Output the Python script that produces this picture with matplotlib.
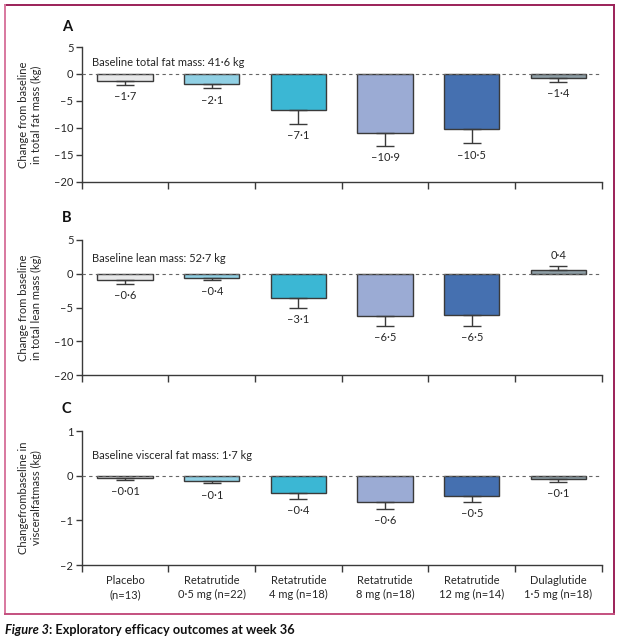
import numpy as np
import matplotlib
matplotlib.use("Agg")
import matplotlib.pyplot as plt
from matplotlib.lines import Line2D

plt.rcParams['font.family'] = ['Lato', 'DejaVu Sans']
plt.rcParams['font.size'] = 8

# groups shown along the x axis
groups = ["Placebo\n(n=13)", "Retatrutide\n0·5 mg (n=22)", "Retatrutide\n4 mg (n=18)",
          "Retatrutide\n8 mg (n=18)", "Retatrutide\n12 mg (n=14)", "Dulaglutide\n1·5 mg (n=18)"]
colors = ["#e7e8e9", "#90d0e4", "#3bb7d4", "#9babd4", "#4570b0", "#8e9ea6"]

# panel A: total fat mass
fat_bar = [-1.3, -1.8, -6.7, -11.0, -10.2, -0.75]
fat_err = [0.7, 0.9, 2.5, 2.4, 2.7, 0.75]
fat_lab = ["–1·7", "–2·1", "–7·1", "–10·9", "–10·5", "–1·4"]

# panel B: lean mass
lean_bar = [-0.9, -0.6, -3.6, -6.3, -6.1, 0.6]
lean_err = [0.55, 0.35, 1.4, 1.4, 1.6, 0.6]
lean_lab = ["–0·6", "–0·4", "–3·1", "–6·5", "–6·5", "0·4"]

# panel C: visceral fat mass
visc_bar = [-0.045, -0.11, -0.38, -0.60, -0.46, -0.07]
visc_err = [0.045, 0.06, 0.14, 0.14, 0.12, 0.07]
visc_lab = ["–0·01", "–0·1", "–0·4", "–0·6", "–0·5", "–0·1"]

fat_ticks = [5, 0, -5, -10, -15, -20]
fat_ticklab = ["5", "0", "–5", "–10", "–15", "–20"]
lean_ticks = [5, 0, -5, -10, -15]
lean_ticklab = ["5", "0", "–5", "–10", "–20"]
visc_ticks = [1, 0, -1, -2]
visc_ticklab = ["1", "0", "–1", "–2"]

TXT = "#262626"
W, H = 619, 640
fig = plt.figure(figsize=(W / 100, H / 100), dpi=100)

def px_ax(top, bottom, left=81.7, right=601.7):
    return [left / W, 1 - bottom / H, (right - left) / W, (bottom - top) / H]

def panel(rect, bars, errs, labs, ticks, ticklab, ylim, letter, letter_y, ylabel,
          baseline, base_y, xlabels=False):
    ax = fig.add_axes(rect)
    x = np.arange(len(bars))
    bars = np.array(bars)
    errs = np.array(errs)
    ax.bar(x, bars, width=0.64, color=colors, edgecolor="#3a3a3a", linewidth=1, zorder=2)
    lo = np.where(bars < 0, errs, 0)
    hi = np.where(bars >= 0, errs, 0)
    ax.errorbar(x, bars, yerr=[lo, hi], fmt="none", ecolor="#3a3a3a", elinewidth=1,
                capsize=6.5, capthick=1, zorder=3)
    ax.axhline(0, color="#666666", lw=0.8, ls=(0, (3, 3)), zorder=4)
    for xi, b, e, t in zip(x, bars, errs, labs):
        if b < 0:
            ax.annotate(t, (xi, b - e), xytext=(0, -4.5), textcoords="offset points",
                        ha="center", va="top", color=TXT)
        else:
            ax.annotate(t, (xi, b + e), xytext=(0, 3), textcoords="offset points",
                        ha="center", va="bottom", color=TXT)
    ax.set_xlim(-0.5, len(bars) - 0.5)
    ax.set_ylim(*ylim)
    ax.set_yticks(ticks)
    ax.set_yticklabels(ticklab)
    ax.set_xticks(np.arange(len(bars) + 1) - 0.5)
    ax.set_xticklabels([])
    ax.set_xticks(x, minor=True)
    if xlabels:
        ax.set_xticklabels(groups, minor=True, linespacing=1.4)
    ax.tick_params(axis="x", which="minor", length=0, pad=7, colors=TXT)
    ax.tick_params(axis="x", which="major", length=5, width=1, color="#3a3a3a")
    ax.tick_params(axis="y", length=4, width=1, color="#3a3a3a", labelcolor=TXT, pad=2)
    for s in ["top", "right"]:
        ax.spines[s].set_visible(False)
    for s in ["left", "bottom"]:
        ax.spines[s].set_color("#3a3a3a")
        ax.spines[s].set_linewidth(1)
    ax.text(0.019, base_y, baseline, transform=ax.transAxes, va="center", ha="left", color=TXT)
    fig.text(62 / W, 1 - letter_y / H, letter, fontsize=10.5, fontweight="bold", va="center",
             color="#111111")
    fig.text(30 / W, rect[1] + rect[3] / 2, ylabel, rotation=90, ha="center", va="center",
             color=TXT, linespacing=1.2)
    return ax

panel(px_ax(47, 181.7), fat_bar, fat_err, fat_lab, fat_ticks, fat_ticklab, (-20, 5),
      "A", 26.7, "Change from baseline\nin total fat mass (kg)",
      "Baseline total fat mass: 41·6 kg", 0.883)
panel(px_ax(240, 375), lean_bar, lean_err, lean_lab, lean_ticks, lean_ticklab, (-15, 5),
      "B", 218, "Change from baseline\nin total lean mass (kg)",
      "Baseline lean mass: 52·7 kg", 0.864)
axc = panel(px_ax(431, 565), visc_bar, visc_err, visc_lab, visc_ticks, visc_ticklab, (-2, 1),
            "C", 409, "Changefrombaseline in\nvisceralfatmass (kg)",
            "Baseline visceral fat mass: 1·7 kg", 0.82, xlabels=True)

# frame around the figure
def fline(x0, y0, x1, y1, c):
    fig.add_artist(Line2D([x0 / W, x1 / W], [1 - y0 / H, 1 - y1 / H], color=c, lw=1.4,
                          transform=fig.transFigure))

fline(4.5, 5, 614, 5, "#9b2058")
fline(614, 5, 614, 614, "#9b2058")
fline(4.5, 5, 4.5, 614, "#d8789f")
fline(4.5, 614, 614, 614, "#c4507f")

# caption
t1 = fig.text(5 / W, 1 - 630 / H, "Figure 3", fontsize=9.2, fontweight="bold",
              fontstyle="italic", va="center", ha="left", color="#111111")
axc.annotate(": Exploratory efficacy outcomes at week 36", xy=(1, 0.5), xycoords=t1,
             va="center", ha="left", fontsize=9.2, fontweight="bold", color="#111111",
             annotation_clip=False)

fig.savefig("out.png", dpi=100)
